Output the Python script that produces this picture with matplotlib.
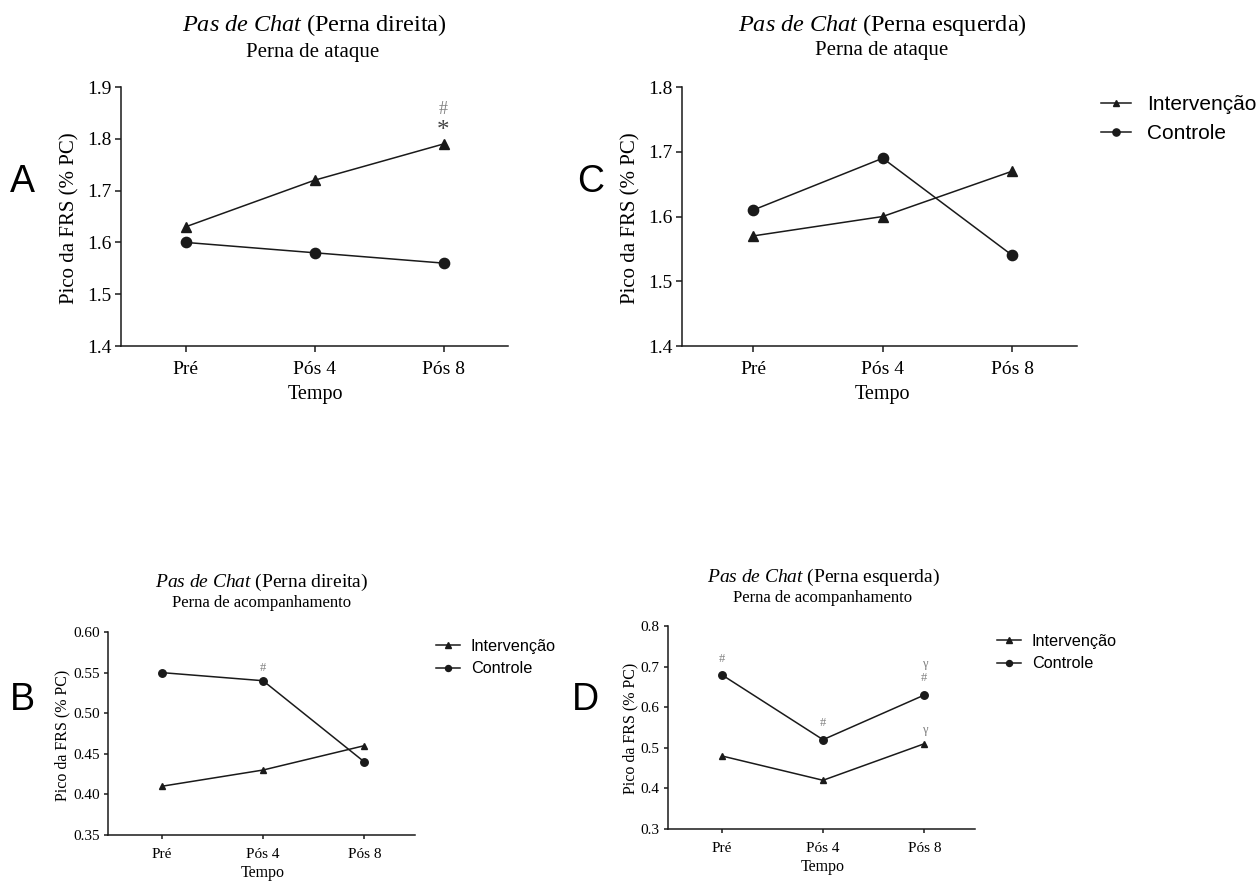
import matplotlib
matplotlib.use("Agg")
import matplotlib.pyplot as plt
from matplotlib.ticker import FormatStrFormatter

plt.rcParams['font.family'] = ['Liberation Serif', 'DejaVu Serif']
plt.rcParams['mathtext.fontset'] = 'custom'
plt.rcParams['mathtext.rm'] = 'Liberation Serif'
plt.rcParams['mathtext.it'] = 'Liberation Serif:italic'

# data
tempos = ['Pré', 'Pós 4', 'Pós 8']
a_interv = [1.63, 1.72, 1.79]
a_controle = [1.60, 1.58, 1.56]
c_interv = [1.57, 1.60, 1.67]
c_controle = [1.61, 1.69, 1.54]
b_interv = [0.41, 0.43, 0.46]
b_controle = [0.55, 0.54, 0.44]
d_interv = [0.48, 0.42, 0.51]
d_controle = [0.68, 0.52, 0.63]

W, H = 1260, 882
fig = plt.figure(figsize=(W / 100, H / 100), dpi=100)
LINE = '#1a1a1a'
NOTE = '#808080'


def px_axes(x0, x1, y0, y1):
    return fig.add_axes([x0 / W, 1 - y1 / H, (x1 - x0) / W, (y1 - y0) / H])


def fig_text(x, y, s, **kw):
    fig.text(x / W, 1 - y / H, s, ha='center', va='center', **kw)


def panel(box, interv, controle, ylim, yticks, fmt, big, xlim):
    ax = px_axes(*box)
    x = range(len(tempos))
    ms = 7.4 if big else 5.4
    l1, = ax.plot(x, interv, color=LINE, lw=1.1, marker='^', ms=ms - 0.8,
                  label='Intervenção', clip_on=False)
    l2, = ax.plot(x, controle, color=LINE, lw=1.1, marker='o', ms=ms,
                  label='Controle', clip_on=False)
    ax.set_xlim(*xlim)
    ax.set_ylim(*ylim)
    ax.set_yticks(yticks)
    ax.yaxis.set_major_formatter(FormatStrFormatter(fmt))
    ax.set_xticks(list(x))
    ax.set_xticklabels(tempos)
    for s in ['top', 'right']:
        ax.spines[s].set_visible(False)
    for s in ['left', 'bottom']:
        ax.spines[s].set_linewidth(1.1)
        ax.spines[s].set_color(LINE)
    fs = 14 if big else 11
    ax.tick_params(length=4 if big else 3, width=1.1, labelsize=fs, pad=3,
                   color=LINE)
    ax.tick_params(axis='x', pad=7 if big else 6)
    return ax, (l1, l2)


# A
axA, _ = panel((121, 508, 87, 346), a_interv, a_controle, (1.4, 1.9),
               [1.4, 1.5, 1.6, 1.7, 1.8, 1.9], '%.1f', True, (-0.5, 2.5))
axA.annotate('*', (2, a_interv[2]), xytext=(0, 9), textcoords='offset points',
             ha='center', va='center', fontsize=18, color='#444444')
axA.annotate('#', (2, a_interv[2]), xytext=(0, 25), textcoords='offset points',
             ha='center', va='center', fontsize=13, color=NOTE)
fig_text(314, 25, r'$\it{Pas\ de\ Chat}$ (Perna direita)', fontsize=17.5)
fig_text(313, 52, 'Perna de ataque', fontsize=15)
fig_text(315, 395, 'Tempo', fontsize=14.5)
fig_text(70, 218, 'Pico da FRS (% PC)', fontsize=15, rotation=90)
fig_text(22, 182, 'A', fontsize=27, family='Liberation Sans')

# C
axC, hC = panel((682, 1077, 87, 346), c_interv, c_controle, (1.4, 1.8),
                [1.4, 1.5, 1.6, 1.7, 1.8], '%.1f', True, (-0.55, 2.5))
fig_text(882, 25, r'$\it{Pas\ de\ Chat}$ (Perna esquerda)', fontsize=17.5)
fig_text(882, 50, 'Perna de ataque', fontsize=15)
fig_text(882, 395, 'Tempo', fontsize=14.5)
fig_text(631, 218, 'Pico da FRS (% PC)', fontsize=15, rotation=90)
fig_text(591, 182, 'C', fontsize=27, family='Liberation Sans')
fig.legend(hC, ['Intervenção', 'Controle'], loc='upper left',
           bbox_to_anchor=(1101 / W, 1 - 95 / H), frameon=False,
           prop={'family': 'Liberation Sans', 'size': 15},
           handlelength=1.45, handletextpad=0.75, labelspacing=0.5,
           borderpad=0, borderaxespad=0, markerscale=0.7)

# B
axB, hB = panel((108, 415, 632, 835), b_interv, b_controle, (0.35, 0.60),
                [0.35, 0.40, 0.45, 0.50, 0.55, 0.60], '%.2f', False,
                (-0.53, 2.5))
axB.annotate('#', (1, b_controle[1]), xytext=(0, 9), textcoords='offset points',
             ha='center', va='center', fontsize=9, color=NOTE)
fig_text(262, 582, r'$\it{Pas\ de\ Chat}$ (Perna direita)', fontsize=14)
fig_text(262, 603, 'Perna de acompanhamento', fontsize=12)
fig_text(263, 873, 'Tempo', fontsize=11.5)
fig_text(62, 735, 'Pico da FRS (% PC)', fontsize=11.5, rotation=90)
fig_text(22, 700, 'B', fontsize=27, family='Liberation Sans')
fig.legend(hB, ['Intervenção', 'Controle'], loc='upper left',
           bbox_to_anchor=(436 / W, 1 - 639 / H), frameon=False,
           prop={'family': 'Liberation Sans', 'size': 11.7},
           handlelength=1.45, handletextpad=0.7, labelspacing=0.45,
           borderpad=0, borderaxespad=0, markerscale=0.8)

# D
axD, hD = panel((668, 975, 626, 829), d_interv, d_controle, (0.3, 0.8),
                [0.3, 0.4, 0.5, 0.6, 0.7, 0.8], '%.1f', False, (-0.53, 2.5))
d_notes = [(0, d_controle, '#', 11), (1, d_controle, '#', 12),
           (2, d_controle, '#', 12), (2, d_controle, 'γ', 22),
           (2, d_interv, 'γ', 10)]
for i, serie, txt, off in d_notes:
    axD.annotate(txt, (i, serie[i]), xytext=(0, off), textcoords='offset points',
                 ha='center', va='center', fontsize=9, color=NOTE)
fig_text(823, 577, r'$\it{Pas\ de\ Chat}$ (Perna esquerda)', fontsize=14)
fig_text(823, 598, 'Perna de acompanhamento', fontsize=12)
fig_text(823, 867, 'Tempo', fontsize=11.5)
fig_text(630, 728, 'Pico da FRS (% PC)', fontsize=11.5, rotation=90)
fig_text(585, 700, 'D', fontsize=27, family='Liberation Sans')
fig.legend(hD, ['Intervenção', 'Controle'], loc='upper left',
           bbox_to_anchor=(997 / W, 1 - 634 / H), frameon=False,
           prop={'family': 'Liberation Sans', 'size': 11.7},
           handlelength=1.45, handletextpad=0.7, labelspacing=0.45,
           borderpad=0, borderaxespad=0, markerscale=0.8)

fig.savefig('out.png', dpi=100, facecolor='white')
